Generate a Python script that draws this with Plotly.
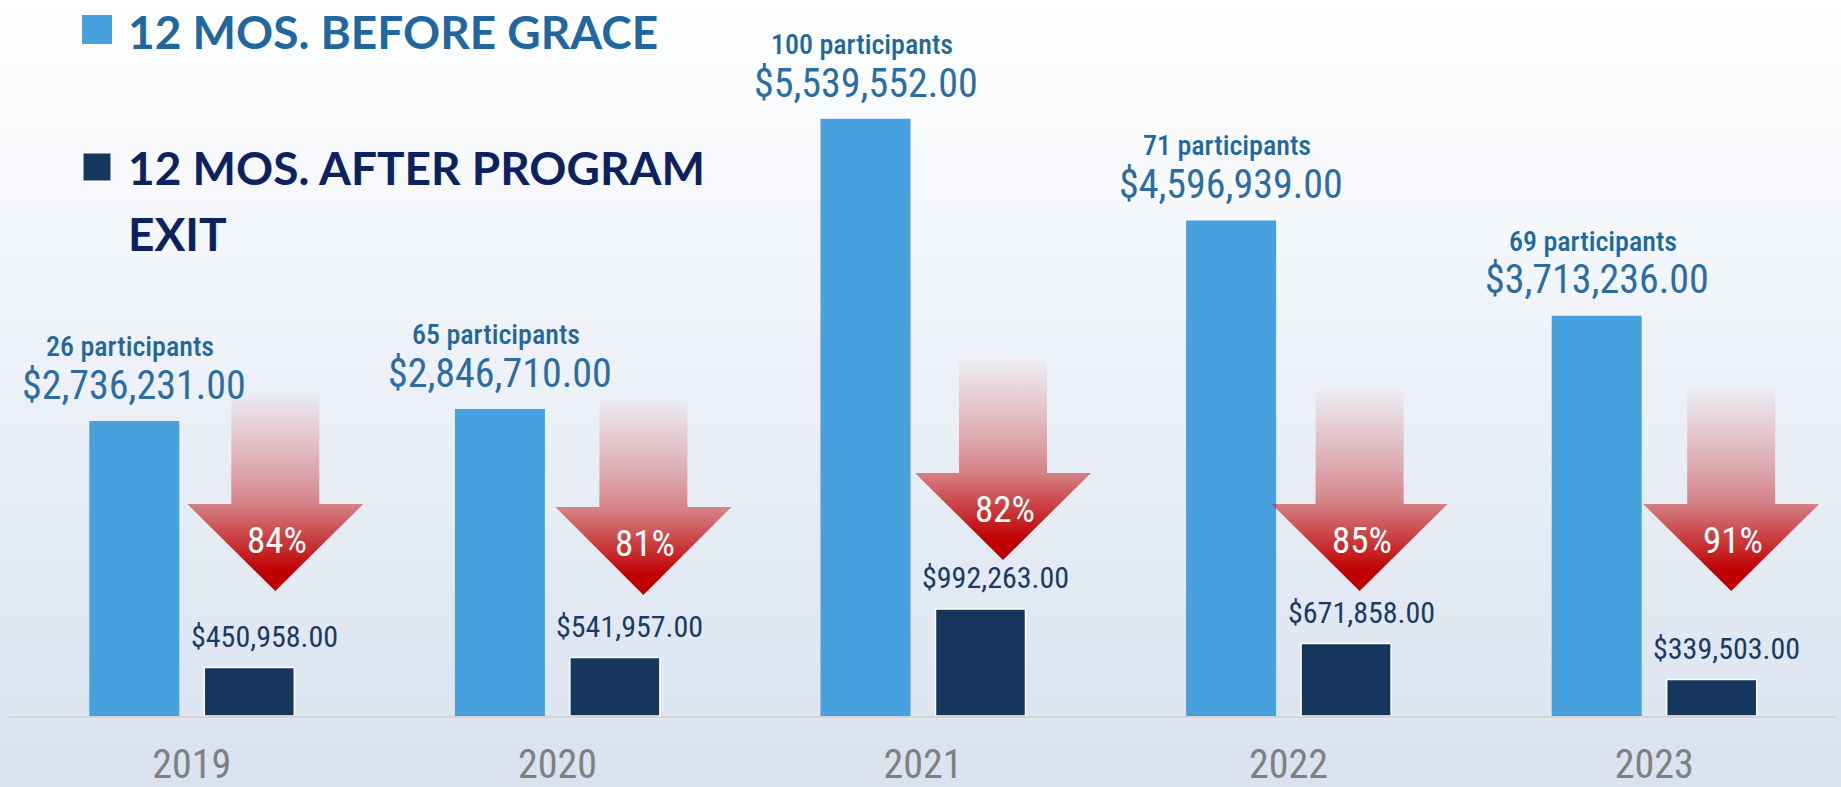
import plotly.graph_objects as go

# ---------------- data ----------------
years = ["2019", "2020", "2021", "2022", "2023"]
before_grace = [2736231, 2846710, 5539552, 4596939, 3713236]
after_exit = [450958, 541957, 992263, 671858, 339503]
participants = [26, 65, 100, 71, 69]
reduction_pct = [84, 81, 82, 85, 91]

series_names = ["12 MOS. BEFORE GRACE", "12 MOS. AFTER PROGRAM", "EXIT"]

# ---------------- styles / layout constants ----------------
W, H = 1841, 787
M_L, M_R, M_T, M_B = 9, 4, 0, 71
PLOT_W = W - M_L - M_R
PLOT_H = H - M_T - M_B
PX_PER_VAL = 295.0 / 2736231.0
Y_MAX = PLOT_H / PX_PER_VAL
X_MIN, X_MAX = -0.5, len(years) - 0.5
PX_PER_X = PLOT_W / (X_MAX - X_MIN)

LIGHT = "#47a1df"
DARK = "#17365d"
LABEL_BLUE = "#21679f"
VALUE_BLUE = "#2b6ca3"
DARK_LABEL = "#1b3a62"
LEG_BLUE = "#1f679e"
LEG_NAVY = "#0c215e"
NARROW = "Roboto Condensed, Liberation Sans Narrow, DejaVu Sans Condensed, sans-serif"
LEGFONT = "Lato, Liberation Sans, sans-serif"

# decorative arrow geometry (pixels in the figure)
ARROW_DX_PX = [83.5, 86, 80, 71, 77]
ARROW_TOP_PX = [393, 400, 360, 390, 390]
ARROW_HEAD_PX = [504, 507, 473, 504, 504]
ARROW_TIP_PX = [591, 595, 560, 591, 591]
SHAFT_HALF_PX = 44
HEAD_HALF_PX = 88


def y_of_px(py):
    return (M_T + PLOT_H - py) / PX_PER_VAL


def xp(px):
    return (px - M_L) / PLOT_W


def yp(py):
    return (M_T + PLOT_H - py) / PLOT_H


xs = list(range(len(years)))

fig = go.Figure()

# ---------------- background gradient ----------------
shapes = []
N = 110
top_c = (255, 255, 255)
bot_c = (217, 226, 239)
for i in range(N):
    t0 = H * i / N
    t1 = H * (i + 1) / N + 1.0
    f = (i + 0.5) / N
    c = tuple(round(top_c[k] + (bot_c[k] - top_c[k]) * f) for k in range(3))
    shapes.append(dict(type="rect", xref="paper", yref="paper", layer="below",
                       x0=-0.02, x1=1.02, y0=yp(t1), y1=yp(t0),
                       fillcolor="rgb(%d,%d,%d)" % c, line=dict(width=0)))

# ---------------- bars ----------------
fig.add_trace(go.Bar(x=xs, y=before_grace, name=series_names[0],
                     marker=dict(color=LIGHT, line=dict(width=0)),
                     hoverinfo="skip"))
fig.add_trace(go.Bar(x=xs, y=after_exit, name=series_names[1] + " " + series_names[2],
                     marker=dict(color=DARK, line=dict(color="white", width=1.5)),
                     hoverinfo="skip"))

# ---------------- arrows ----------------
grad = [[0.0, "rgba(192,0,0,1)"], [0.1, "rgba(192,0,0,1)"],
        [0.3, "rgba(192,0,0,0.68)"], [0.44, "rgba(192,0,0,0.45)"],
        [0.6, "rgba(192,0,0,0.3)"], [0.78, "rgba(192,0,0,0.17)"],
        [1.0, "rgba(192,0,0,0.02)"]]
for i in range(len(years)):
    cx = xs[i] + ARROW_DX_PX[i] / PX_PER_X
    sh = SHAFT_HALF_PX / PX_PER_X
    hh = HEAD_HALF_PX / PX_PER_X
    yt = y_of_px(ARROW_TOP_PX[i])
    yh = y_of_px(ARROW_HEAD_PX[i])
    ytip = y_of_px(ARROW_TIP_PX[i])
    ax = [cx - sh, cx + sh, cx + sh, cx + hh, cx, cx - hh, cx - sh, cx - sh]
    ay = [yt, yt, yh, yh, ytip, yh, yh, yt]
    fig.add_trace(go.Scatter(x=ax, y=ay, mode="lines", fill="toself",
                             line=dict(width=0, color="rgba(0,0,0,0)"),
                             fillgradient=dict(type="vertical", colorscale=grad),
                             hoverinfo="skip", showlegend=False))

# ---------------- annotations ----------------
ann = []
D = 0.244  # Roboto descent ratio
BAR_OFF_PX = 57.5
for i in range(len(years)):
    ann.append(dict(x=xs[i], y=before_grace[i], xref="x", yref="y",
                    text="%d participants" % participants[i],
                    font=dict(family=NARROW, size=28, color=LABEL_BLUE, weight=550),
                    showarrow=False, xanchor="center", yanchor="bottom",
                    xshift=-BAR_OFF_PX - 4, yshift=64 - (D * 28 + 1)))
    ann.append(dict(x=xs[i], y=before_grace[i], xref="x", yref="y",
                    text="${:,.2f}".format(before_grace[i]),
                    font=dict(family=NARROW, size=40, color=VALUE_BLUE),
                    showarrow=False, xanchor="center", yanchor="bottom",
                    xshift=-BAR_OFF_PX, yshift=21 - (D * 40 + 1)))
    ann.append(dict(x=xs[i], y=after_exit[i], xref="x", yref="y",
                    text="${:,.2f}".format(after_exit[i]),
                    font=dict(family=NARROW, size=30, color=DARK_LABEL, weight=450),
                    showarrow=False, xanchor="center", yanchor="bottom",
                    xshift=BAR_OFF_PX + 15, yshift=20 - (D * 30 + 1)))
    cx = xs[i] + ARROW_DX_PX[i] / PX_PER_X
    ann.append(dict(x=cx, y=y_of_px(ARROW_HEAD_PX[i] + 50), xref="x", yref="y",
                    text="%d%%" % reduction_pct[i],
                    font=dict(family=NARROW, size=37, color="white"),
                    showarrow=False, xanchor="center", yanchor="bottom",
                    xshift=2, yshift=-(D * 37 + 1)))

# ---------------- custom legend ----------------
shapes.append(dict(type="rect", xref="paper", yref="paper",
                   x0=xp(82), x1=xp(112), y0=yp(44), y1=yp(15),
                   fillcolor=LIGHT, line=dict(width=0)))
shapes.append(dict(type="rect", xref="paper", yref="paper",
                   x0=xp(83), x1=xp(111), y0=yp(181), y1=yp(153),
                   fillcolor=DARK, line=dict(color="white", width=1)))
LEG_SIZE = 46
LD = 0.213
for txt, base, col in [(series_names[0], 50, LEG_BLUE),
                       (series_names[1], 186, LEG_NAVY),
                       (series_names[2], 252, LEG_NAVY)]:
    ann.append(dict(x=xp(126), y=yp(base + LD * LEG_SIZE + 1), xref="paper", yref="paper",
                    text=txt, showarrow=False, xanchor="left", yanchor="bottom",
                    font=dict(family=LEGFONT, size=LEG_SIZE, color=col, weight="bold")))

fig.update_layout(
    width=W, height=H,
    margin=dict(l=M_L, r=M_R, t=M_T, b=M_B, pad=0, autoexpand=False),
    paper_bgcolor="rgba(0,0,0,0)", plot_bgcolor="rgba(0,0,0,0)",
    barmode="group", bargap=0.371, bargroupgap=0.217,
    showlegend=False,
    shapes=shapes, annotations=ann,
    xaxis=dict(range=[X_MIN, X_MAX], tickvals=xs, ticktext=years,
               showgrid=False, zeroline=False, showline=True, automargin=False,
               linecolor="#d8d4cf", linewidth=2, ticks="",
               tickfont=dict(family=NARROW, size=40, color="#808080"),
               ticklabelstandoff=12, fixedrange=True),
    yaxis=dict(range=[0, Y_MAX], visible=False, fixedrange=True, automargin=False),
)

fig.write_html("out.html", config={"displayModeBar": False},
               post_script="document.body.style.margin='0';document.body.style.overflow='hidden';")
